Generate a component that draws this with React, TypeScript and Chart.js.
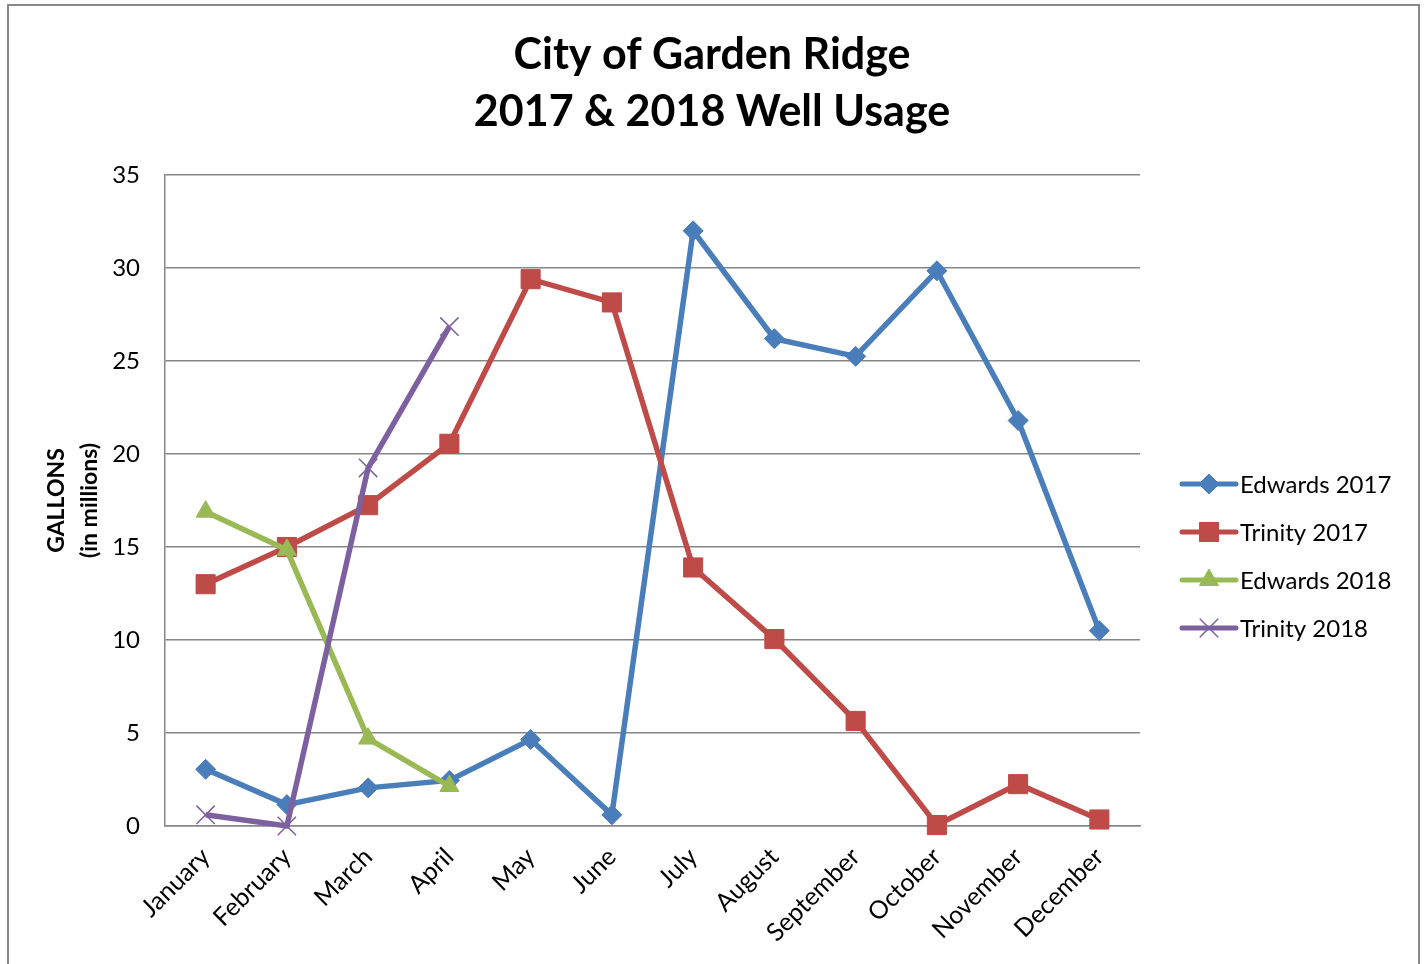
import React, { useEffect, useRef } from "react";
import { Chart, registerables } from "chart.js";
import { drawPoint } from "chart.js/helpers";

Chart.register(...registerables);

const months = ["January", "February", "March", "April", "May", "June", "July", "August", "September", "October", "November", "December"];
const edwards2017 = [3.05, 1.15, 2.05, 2.45, 4.65, 0.6, 32.0, 26.2, 25.25, 29.85, 21.8, 10.5];
const trinity2017 = [13.0, 15.0, 17.25, 20.55, 29.4, 28.15, 13.9, 10.05, 5.65, 0.05, 2.25, 0.35];
const edwards2018 = [16.9, 14.85, 4.7, 2.15];
const trinity2018 = [0.6, 0.0, 19.25, 26.85];
const yTicks = [0, 5, 10, 15, 20, 25, 30, 35];
const titleLines = ["City of Garden Ridge", "2017 & 2018 Well Usage"];
const yTitleLines = ["GALLONS", "(in millions)"];

const FONT = "Lato, 'Open Sans', sans-serif";

const titlePlugin = {
  id: "centeredTitle",
  afterDraw(chart: any) {
    const ctx = chart.ctx;
    ctx.save();
    ctx.fillStyle = "#000";
    ctx.font = `bold 43px ${FONT}`;
    ctx.textAlign = "center";
    ctx.textBaseline = "middle";
    titleLines.forEach((t, i) => {
      ctx.fillText(t, chart.width / 2, 55 + i * 57);
    });
    ctx.restore();
  },
};

const legendPlugin = {
  id: "lineLegend",
  afterDraw(chart: any) {
    const ctx = chart.ctx;
    const area = chart.chartArea;
    const x0 = area.right + 42;
    const y0 = area.top + 309;
    const rowGap = 48;
    ctx.save();
    chart.data.datasets.forEach((ds: any, i: number) => {
      const y = y0 + i * rowGap;
      ctx.beginPath();
      ctx.strokeStyle = ds.borderColor;
      ctx.lineWidth = 5;
      ctx.lineCap = "round";
      ctx.moveTo(x0, y);
      ctx.lineTo(x0 + 54, y);
      ctx.stroke();
      ctx.fillStyle = ds.pointBackgroundColor;
      ctx.strokeStyle = ds.pointBorderColor;
      ctx.lineWidth = ds.pointBorderWidth;
      ctx.lineCap = "butt";
      drawPoint(ctx, { pointStyle: ds.pointStyle, radius: ds.pointRadius, rotation: 0, borderWidth: ds.pointBorderWidth }, x0 + 27, y);
      ctx.fillStyle = "#000";
      ctx.font = `24px ${FONT}`;
      ctx.textAlign = "left";
      ctx.textBaseline = "middle";
      ctx.fillText(ds.label, x0 + 58, y + 1);
    });
    ctx.restore();
  },
};

export default function App() {
  const ref = useRef<HTMLCanvasElement | null>(null);
  useEffect(() => {
    document.body.style.margin = "0";
    const canvas = ref.current!;
    const mk = (label: string, data: number[], color: string, style: string, radius: number, bw: number, order: number) => ({
      label,
      data,
      borderColor: color,
      backgroundColor: color,
      pointBackgroundColor: color,
      pointBorderColor: color,
      pointBorderWidth: bw,
      pointStyle: style,
      pointRadius: radius,
      pointHoverRadius: radius,
      borderWidth: 5.5,
      tension: 0,
      clip: false,
      order,
    });
    const chart = new Chart(canvas, {
      type: "line",
      data: {
        labels: months,
        datasets: [
          mk("Edwards 2017", edwards2017, "#4A7EBB", "rectRot", 10, 1, 3),
          mk("Trinity 2017", trinity2017, "#BE4B48", "rect", 13.5, 1, 2),
          mk("Edwards 2018", edwards2018, "#98B954", "triangle", 11, 1, 1),
          mk("Trinity 2018", trinity2018, "#7D60A0", "crossRot", 13, 1.5, 0),
        ] as any,
      },
      options: {
        animation: false,
        responsive: false,
        devicePixelRatio: 1,
        layout: { padding: { left: 0, right: 284, top: 175, bottom: 0 } },
        plugins: {
          legend: { display: false },
          tooltip: { enabled: false },
          title: { display: false },
        },
        scales: {
          x: {
            offset: true,
            grid: { display: false, drawTicks: false },
            border: { display: true, color: "#868686", width: 1.5 },
            ticks: {
              autoSkip: false,
              maxRotation: 45,
              minRotation: 45,
              padding: 16,
              color: "#000",
              font: { family: FONT, size: 25 },
            },
            afterFit: (s: any) => {
              s.height = 138;
            },
          },
          y: {
            min: 0,
            max: 35,
            afterBuildTicks: (s: any) => {
              s.ticks = yTicks.map((v) => ({ value: v }));
            },
            grid: { color: "#868686", lineWidth: 1.5, drawTicks: false },
            border: { display: true, color: "#868686", width: 1.5 },
            ticks: {
              padding: 25,
              color: "#000",
              font: { family: FONT, size: 24 },
            },
            title: {
              display: true,
              text: yTitleLines,
              color: "#000",
              font: { family: FONT, size: 23, weight: "bold", lineHeight: 33 / 23 },
              padding: { top: 40, bottom: 0 },
            },
            afterFit: (s: any) => {
              s.width = 165;
            },
          },
        },
      },
      plugins: [titlePlugin, legendPlugin],
    });
    return () => chart.destroy();
  }, []);
  return (
    <div style={{ position: "absolute", left: 0, top: 0, width: 1424, height: 964, overflow: "hidden", background: "#fff" }}>
      <canvas ref={ref} width={1424} height={964} style={{ position: "absolute", left: 0, top: 0, width: 1424, height: 964 }} />
      <div
        style={{
          position: "absolute",
          left: 7,
          top: 4,
          width: 1409,
          height: 1000,
          border: "2px solid #898989",
          pointerEvents: "none",
        }}
      />
    </div>
  );
}
